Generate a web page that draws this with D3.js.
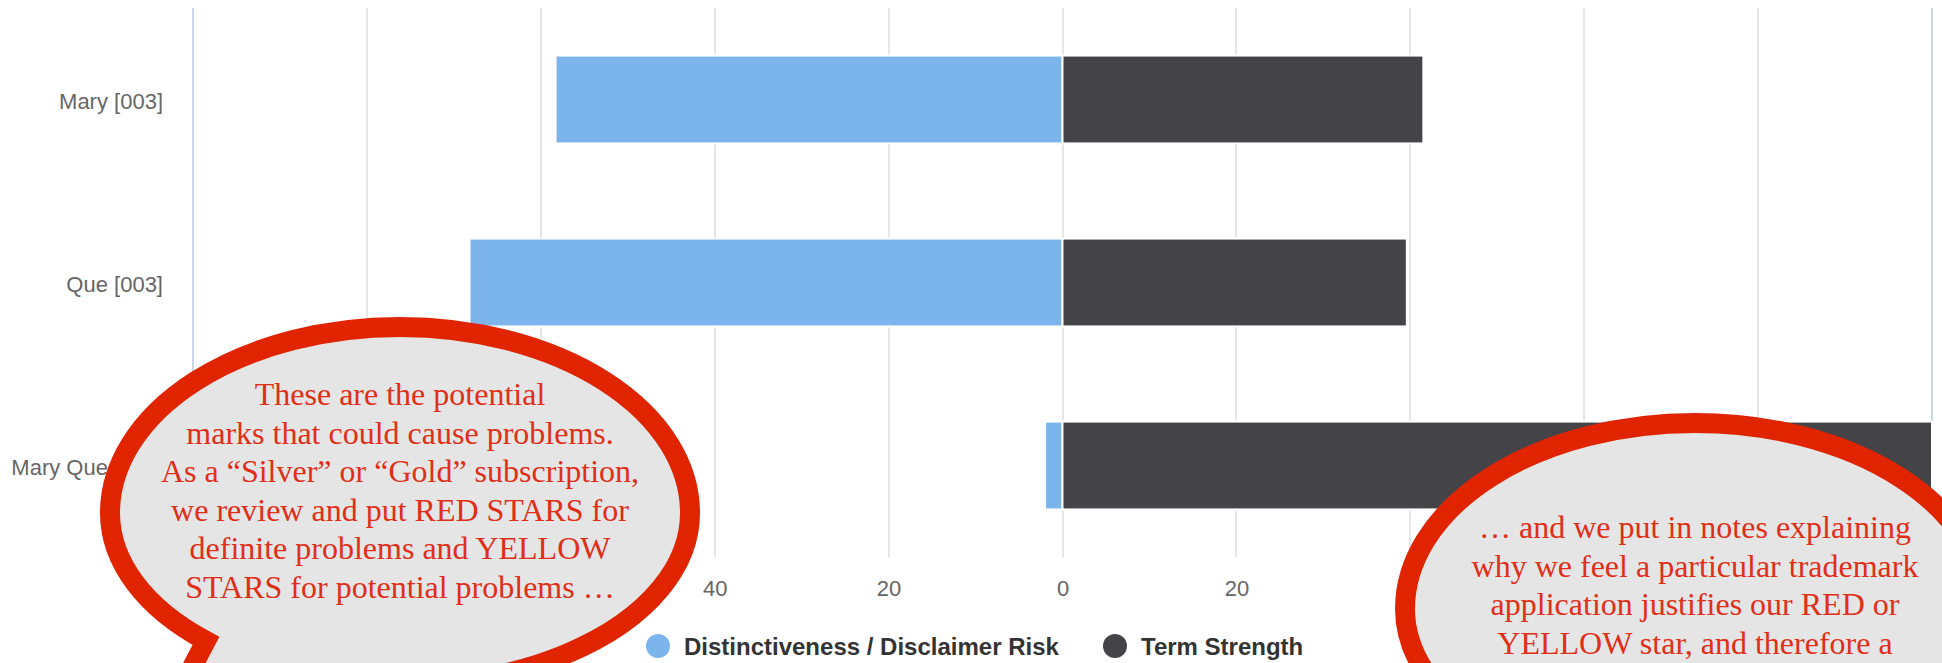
<!DOCTYPE html>
<html>
<head>
<meta charset="utf-8">
<script src="https://cdnjs.cloudflare.com/ajax/libs/d3/7.8.5/d3.min.js"></script>
<style>
  html, body { margin: 0; padding: 0; background: #ffffff; }
  svg { display: block; }
</style>
</head>
<body>
<svg id="chart" width="1942" height="663"></svg>
<script>
// ---- data ----
const categories = ["Mary [003]", "Que [003]", "Mary Que [003]"];
const riskValues = [58.3, 68.2, 2];        // Distinctiveness / Disclaimer Risk (drawn to the left)
const strengthValues = [41.5, 39.6, 100];   // Term Strength (drawn to the right)
const seriesNames = ["Distinctiveness / Disclaimer Risk", "Term Strength"];
const tickValues = [-100, -80, -60, -40, -20, 0, 20, 40, 60, 80, 100];
const leftNote = [
  "These are the potential",
  "marks that could cause problems.",
  "As a \u201cSilver\u201d or \u201cGold\u201d subscription,",
  "we review and put RED STARS for",
  "definite problems and YELLOW",
  "STARS for potential problems \u2026"
];
const rightNote = [
  "\u2026 and we put in notes explaining",
  "why we feel a particular trademark",
  "application justifies our RED or",
  "YELLOW star, and therefore a"
];

// ---- layout ----
const W = 1942, H = 663;
const plotLeft = 193, plotRight = 1932, plotTop = 8, plotBottom = 557;
const colors = ["#7cb5ec", "#434348"];
const sansFont = "'Liberation Sans', Arial, Helvetica, sans-serif";
const serifFont = "'Liberation Serif', 'Times New Roman', serif";

// speech bubble overlays (geometry of the callouts)
const bubbles = [
  { cx: 400, cy: 513, lines: leftNote, firstBaseline: 405, tail: { a1: 132, a2: 110, dx: -68, dy: 130 } },
  { cx: 1695, cy: 609, lines: rightNote, firstBaseline: 538, tail: null }
];
const bRx = 290, bRyTop = 186, bRyBot = 172, bStroke = 20;

function insideBubble(px, py, pad) {
  return bubbles.some(b => {
    const ry = py < b.cy ? bRyTop : bRyBot;
    const rx = bRx + bStroke / 2 + pad, ryy = ry + bStroke / 2 + pad;
    const dx = (px - b.cx) / rx, dy = (py - b.cy) / ryy;
    return dx * dx + dy * dy < 1;
  });
}

const svg = d3.select("#chart");

const x = d3.scaleLinear().domain([-100, 100]).range([plotLeft, plotRight]);
const y = d3.scaleBand().domain(categories).range([plotTop, plotBottom])
  .paddingInner(0.52).paddingOuter(0.26);

// grid lines
svg.append("g").selectAll("line").data(tickValues).join("line")
  .attr("x1", d => Math.round(x(d))).attr("x2", d => Math.round(x(d)))
  .attr("y1", plotTop).attr("y2", plotBottom)
  .attr("stroke", "#e6e6e6").attr("stroke-width", 2);

// axis lines (left category axis and mirrored right axis)
svg.append("g").selectAll("line").data([plotLeft, plotRight]).join("line")
  .attr("x1", d => d).attr("x2", d => d)
  .attr("y1", plotTop).attr("y2", plotBottom)
  .attr("stroke", "#ccd6eb").attr("stroke-width", 2);

// bars
const rows = categories.map((c, i) => ({ c, risk: riskValues[i], strength: strengthValues[i] }));
const barG = svg.append("g");
barG.selectAll("rect.risk").data(rows).join("rect").attr("class", "risk")
  .attr("x", d => x(-d.risk)).attr("width", d => x(0) - x(-d.risk))
  .attr("y", d => y(d.c)).attr("height", y.bandwidth())
  .attr("fill", colors[0]).attr("stroke", "#ffffff").attr("stroke-width", 2);
barG.selectAll("rect.strength").data(rows).join("rect").attr("class", "strength")
  .attr("x", x(0)).attr("width", d => x(d.strength) - x(0))
  .attr("y", d => y(d.c)).attr("height", y.bandwidth())
  .attr("fill", colors[1]).attr("stroke", "#ffffff").attr("stroke-width", 2);

// category axis labels
const yAxis = d3.axisLeft(y).tickSize(0).tickPadding(30);
const yg = svg.append("g").attr("transform", `translate(${plotLeft},0)`).call(yAxis);
yg.select(".domain").remove();
yg.selectAll("text").attr("font-family", sansFont).attr("font-size", 22)
  .attr("fill", "#666666").attr("dy", "0.41em");

// value axis labels (those hidden under the callouts are not drawn)
const labelY = plotBottom + 31;
const visibleTicks = tickValues.filter(t => !insideBubble(x(t), labelY, 14) && x(t) + 20 < W);
const xAxis = d3.axisBottom(x).tickValues(visibleTicks).tickFormat(d => Math.abs(d)).tickSize(0).tickPadding(23.5);
const xg = svg.append("g").attr("transform", `translate(0,${plotBottom})`).call(xAxis);
xg.select(".domain").remove();
xg.selectAll("text").attr("font-family", sansFont).attr("font-size", 22).attr("fill", "#666666");

// legend
const legendItems = [
  { name: seriesNames[0], color: colors[0], cx: 658, tx: 684 },
  { name: seriesNames[1], color: colors[1], cx: 1115, tx: 1141 }
];
const lg = svg.append("g");
lg.selectAll("circle").data(legendItems).join("circle")
  .attr("cx", d => d.cx).attr("cy", 646).attr("r", 12).attr("fill", d => d.color);
lg.selectAll("text").data(legendItems).join("text")
  .attr("x", d => d.tx).attr("y", 655)
  .attr("font-family", sansFont).attr("font-size", 24).attr("font-weight", "bold")
  .attr("fill", "#333333").text(d => d.name);

// ---- speech bubbles ----
function bubblePath(cx, cy, rx, ryTop, ryBot, tail) {
  if (tail) {
    const t1 = tail.a1 * Math.PI / 180, t2 = tail.a2 * Math.PI / 180;
    const p1 = [cx + rx * Math.cos(t1), cy + ryBot * Math.sin(t1)];
    const p2 = [cx + rx * Math.cos(t2), cy + ryBot * Math.sin(t2)];
    const tip = [p1[0] + tail.dx, p1[1] + tail.dy];
    return `M${p1[0]},${p1[1]} A${rx},${ryBot} 0 0 1 ${cx - rx},${cy} ` +
      `A${rx},${ryTop} 0 0 1 ${cx + rx},${cy} ` +
      `A${rx},${ryBot} 0 0 1 ${p2[0]},${p2[1]} L${tip[0]},${tip[1]} Z`;
  }
  return `M${cx - rx},${cy} A${rx},${ryTop} 0 0 1 ${cx + rx},${cy} ` +
    `A${rx},${ryBot} 0 0 1 ${cx - rx},${cy} Z`;
}

const bg = svg.append("g");
bubbles.forEach(b => {
  bg.append("path")
    .attr("d", bubblePath(b.cx, b.cy, bRx, bRyTop, bRyBot, b.tail))
    .attr("fill", "#e5e5e5").attr("stroke", "#e02400").attr("stroke-width", bStroke)
    .attr("stroke-linejoin", "miter").attr("stroke-miterlimit", 10);
  bg.append("g").selectAll("text").data(b.lines).join("text")
    .attr("x", b.cx).attr("y", (d, i) => b.firstBaseline + i * 38.5)
    .attr("text-anchor", "middle")
    .attr("font-family", serifFont).attr("font-size", 32)
    .attr("fill", "#e12e18").text(d => d);
});
</script>
</body>
</html>
